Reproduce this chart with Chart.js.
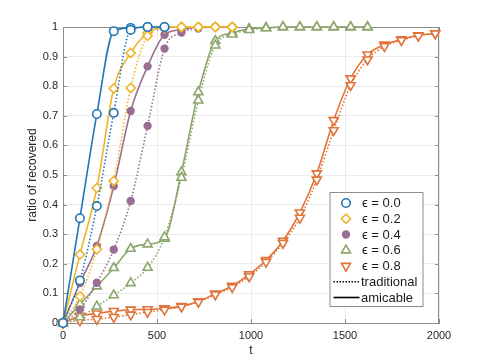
<!DOCTYPE html>
<html><head><meta charset="utf-8">
<script src="https://cdn.jsdelivr.net/npm/chart.js@4"></script>
<style>html,body{margin:0;padding:0;background:#fff}#wrap{width:485px;height:363px}</style>
</head><body><div id="wrap"><canvas id="c" width="485" height="363"></canvas></div>
<script>
// ---- data ----
const tSteps = [0,90,180,270,360,450,540,630,720,810,900,990,1080,1170,1260,1350,1440,1530,1620,1710,1800,1890,1980];
const epsLabels = ['\u03F5 = 0.0','\u03F5 = 0.2','\u03F5 = 0.4','\u03F5 = 0.6','\u03F5 = 0.8'];
const styleLabels = ['traditional','amicable'];
const xTickValues = [0,500,1000,1500,2000];
const xTickLabels = ['0','500','1000','1500','2000'];
const yTickValues = [0,0.1,0.2,0.3,0.4,0.5,0.6,0.7,0.8,0.9,1];
const yTickLabels = ['0','0.1','0.2','0.3','0.4','0.5','0.6','0.7','0.8','0.9','1'];

const amicable00    = [0,0.354,0.706,0.986,0.997,1,1];
const traditional00 = [0,0.144,0.395,0.710,0.990,1,1];
const amicable02    = [0,0.231,0.456,0.792,0.912,0.980,1,1,1,1,1];
const traditional02 = [0,0.090,0.249,0.480,0.794,0.970,0.997,1,1,1,1];
const amicable04    = [0,0.135,0.260,0.463,0.716,0.867,0.974,0.991,1,1,1];
const traditional04 = [0,0.046,0.136,0.248,0.412,0.666,0.927,0.981,0.995,1,1];
const amicable06    = [0,0.063,0.124,0.186,0.251,0.266,0.285,0.510,0.780,0.953,0.980,0.994,0.997,1,1,1,1,1,1];
const traditional06 = [0,0.020,0.056,0.094,0.135,0.187,0.290,0.491,0.752,0.938,0.975,0.990,0.996,1,1,1,1,1,1];
const amicable08    = [0,0.024,0.032,0.040,0.045,0.046,0.049,0.057,0.073,0.099,0.125,0.164,0.212,0.277,0.373,0.505,0.685,0.826,0.907,0.940,0.958,0.972,0.978];
const traditional08 = [0,0.009,0.013,0.020,0.028,0.037,0.045,0.055,0.071,0.096,0.121,0.157,0.206,0.270,0.355,0.484,0.651,0.803,0.890,0.935,0.955,0.970,0.978];

// ---- styles ----
const series = [
  {label: epsLabels[0], color:'#2276b4', style:'circle', rot:0, r:4.2, fill:'#ffffff', am: amicable00, tr: traditional00},
  {label: epsLabels[1], color:'#f0b429', style:'rectRot', rot:0, r:4.6, fill:'#ffffff', am: amicable02, tr: traditional02},
  {label: epsLabels[2], color:'#9a6e93', style:'circle', rot:0, r:3.4, fill:'#9a6e93', am: amicable04, tr: traditional04},
  {label: epsLabels[3], color:'#8ba66b', style:'triangle', rot:0, r:5.2, fill:'#ffffff', am: amicable06, tr: traditional06},
  {label: epsLabels[4], color:'#e0743a', style:'triangle', rot:180, r:5.2, fill:'#ffffff', am: amicable08, tr: traditional08}
];

function pts(vals){ return vals.map((v,i)=>({x:tSteps[i], y:v})); }

const datasets = [];
series.forEach(s=>{
  [['tr',[1.5,2]],['am',[]]].forEach(([k,dash])=>{
    datasets.push({
      label: s.label + (k==='tr'?' traditional':' amicable'),
      data: pts(s[k]),
      showLine:true,
      borderColor:s.color,
      backgroundColor:s.color,
      borderWidth:1.6,
      borderDash:dash,
      cubicInterpolationMode:'monotone',
      pointStyle:s.style,
      pointRotation:s.rot,
      pointRadius:s.r,
      pointBorderWidth:1.6,
      pointBackgroundColor:s.fill,
      pointBorderColor:s.color,
      clip:false
    });
  });
});

const AX = '#8c8c8c';
const FONT = '"Liberation Sans", Arial, "DejaVu Sans", sans-serif';

const framePlugin = {
  id:'frame',
  beforeDatasetsDraw(chart){
    const {ctx, chartArea:a, scales:{x,y}} = chart;
    ctx.save();
    ctx.strokeStyle = AX; ctx.lineWidth = 1;
    ctx.beginPath();
    ctx.moveTo(a.left, a.top+0.5); ctx.lineTo(a.right, a.top+0.5);
    ctx.moveTo(a.right-0.5, a.top); ctx.lineTo(a.right-0.5, a.bottom);
    xTickValues.forEach(v=>{
      const px = Math.round(x.getPixelForValue(v))+0.5;
      ctx.moveTo(px, a.bottom); ctx.lineTo(px, a.bottom-4);
      ctx.moveTo(px, a.top); ctx.lineTo(px, a.top+4);
    });
    yTickValues.forEach(v=>{
      const py = Math.round(y.getPixelForValue(v))+0.5;
      ctx.moveTo(a.left, py); ctx.lineTo(a.left+4, py);
      ctx.moveTo(a.right, py); ctx.lineTo(a.right-4, py);
    });
    ctx.stroke();
    ctx.restore();
  },
  afterDraw(chart){
    const {ctx, chartArea:a} = chart;
    const w = 93, h = 114;
    const left = a.right - 16.5 - w, top = a.bottom - 17 - h;
    ctx.save();
    ctx.fillStyle = '#fff'; ctx.strokeStyle = AX; ctx.lineWidth = 1;
    ctx.fillRect(left, top, w, h);
    ctx.strokeRect(left+0.5, top+0.5, w, h);
    ctx.font = '13px ' + FONT;
    ctx.textBaseline = 'middle'; ctx.textAlign = 'left';
    const rowH = 15.75, y0 = top + 11;
    series.forEach((s,i)=>{
      const cy = y0 + i*rowH, cx = left + 16.5;
      ctx.save();
      ctx.strokeStyle = s.color; ctx.fillStyle = s.fill; ctx.lineWidth = 1.6;
      ctx.translate(cx, cy); ctx.rotate(s.rot*Math.PI/180);
      ctx.beginPath();
      const r = s.r;
      if (s.style==='circle') ctx.arc(0,0,r,0,Math.PI*2);
      else if (s.style==='rectRot'){ ctx.moveTo(0,-r); ctx.lineTo(r,0); ctx.lineTo(0,r); ctx.lineTo(-r,0); ctx.closePath(); }
      else { ctx.moveTo(0,-r); ctx.lineTo(r*0.866,r*0.5); ctx.lineTo(-r*0.866,r*0.5); ctx.closePath(); }
      ctx.fill(); ctx.stroke();
      ctx.restore();
      ctx.fillStyle = '#1a1a1a';
      ctx.fillText(s.label, left + 32.5, cy+0.5);
    });
    styleLabels.forEach((lab,j)=>{
      const cy = y0 + (5+j)*rowH;
      ctx.save();
      ctx.strokeStyle = '#000'; ctx.lineWidth = 1.6;
      ctx.setLineDash(j===0?[1.5,1.5]:[]);
      ctx.beginPath(); ctx.moveTo(left+4, cy); ctx.lineTo(left+30, cy); ctx.stroke();
      ctx.restore();
      ctx.fillStyle = '#1a1a1a';
      ctx.fillText(lab, left + 31.5, cy+0.5);
    });
    ctx.restore();
  }
};

new Chart(document.getElementById('c'), {
  type:'scatter',
  data:{datasets},
  options:{
    responsive:false,
    animation:false,
    devicePixelRatio:1,
    layout:{padding:{top:27,right:46,left:0,bottom:0}},
    plugins:{legend:{display:false}, tooltip:{enabled:false}},
    scales:{
      x:{
        type:'linear', min:0, max:2000,
        afterBuildTicks:(s)=>{ s.ticks = xTickValues.map(v=>({value:v})); },
        grid:{color:'#ebebeb', drawTicks:false, lineWidth:1},
        border:{display:true, color:AX, width:1},
        ticks:{padding:6, color:'#262626', font:{size:11, family:FONT},
          callback:(v)=>{ const i = xTickValues.indexOf(v); return i>=0 ? xTickLabels[i] : ''; }},
        title:{display:true, text:'t', color:'#262626', font:{size:12, family:FONT}, padding:{top:0,bottom:5}},
        afterFit:(s)=>{ s.height = 40; }
      },
      y:{
        type:'linear', min:0, max:1,
        afterBuildTicks:(s)=>{ s.ticks = yTickValues.map(v=>({value:v})); },
        grid:{color:'#ebebeb', drawTicks:false, lineWidth:1},
        border:{display:true, color:AX, width:1},
        ticks:{padding:5, color:'#262626', font:{size:11, family:FONT},
          callback:(v)=>{ const i = yTickValues.indexOf(v); return i>=0 ? yTickLabels[i] : ''; }},
        title:{display:true, text:'ratio of recovered', color:'#262626', font:{size:12, family:FONT}, padding:{top:25,bottom:0}},
        afterFit:(s)=>{ s.width = 63; }
      }
    }
  },
  plugins:[framePlugin]
});
</script>
</body></html>
